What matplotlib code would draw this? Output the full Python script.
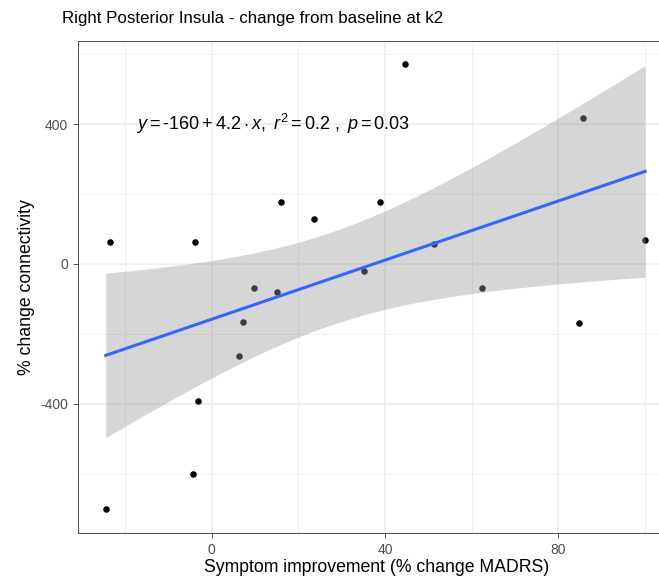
import numpy as np
import matplotlib.pyplot as plt
from matplotlib.ticker import MultipleLocator

plt.rcParams['font.family'] = ['Liberation Sans', 'DejaVu Sans']
plt.rcParams['mathtext.fontset'] = 'custom'
plt.rcParams['mathtext.rm'] = 'Liberation Sans'
plt.rcParams['mathtext.it'] = 'Liberation Sans:italic'
plt.rcParams['axes.unicode_minus'] = False

# symptom improvement (% change MADRS) and % change connectivity
improvement = [-24.4, -23.5, -4.2, -3.7, -3.1, 6.3, 7.3, 9.8, 15.2, 16.1,
               23.6, 35.1, 38.9, 44.6, 51.4, 62.4, 84.8, 85.6, 100.0]
connectivity = [-700, 63, -600, 64, -392, -264, -167, -69, -79, 178,
                130, -19, 178, 571, 56, -69, -168, 418, 69]

x = np.array(improvement)
y = np.array(connectivity)

# linear fit with 95% confidence band (like geom_smooth(method = "lm"))
n = len(x)
slope, intercept = np.polyfit(x, y, 1)
resid = y - (intercept + slope * x)
s = np.sqrt(np.sum(resid ** 2) / (n - 2))
t_crit = 2.1098  # t(0.975, df = 17)
xs = np.linspace(x.min(), x.max(), 200)
ys = intercept + slope * xs
se = s * np.sqrt(1 / n + (xs - x.mean()) ** 2 / np.sum((x - x.mean()) ** 2))

fig = plt.figure(figsize=(6.59, 5.79), dpi=100)
ax = fig.add_axes([78 / 659, 46 / 579, 597 / 659, 492 / 579])

ax.scatter(x, y, s=22, color='black', zorder=2, linewidths=0)
ax.fill_between(xs, ys - t_crit * se, ys + t_crit * se, color='#999999',
                alpha=0.4, linewidth=0, zorder=3)
ax.plot(xs, ys, color='#3366FF', linewidth=2.2, zorder=4)

ax.text(-17.5, 400, r'$y = \text{-}160 + 4.2 \cdot x,\ r^2 = 0.2\ ,\ p = 0.03$',
        fontsize=13, va='center', ha='left', zorder=5)

ax.set_xlim(-30.8, 106.9)
ax.set_ylim(-770, 638)
ax.xaxis.set_major_locator(MultipleLocator(40))
ax.xaxis.set_minor_locator(MultipleLocator(20))
ax.yaxis.set_major_locator(MultipleLocator(400))
ax.yaxis.set_minor_locator(MultipleLocator(200))
ax.grid(True, which='major', color='#EBEBEB', linewidth=1.1, zorder=0)
ax.grid(True, which='minor', color='#EBEBEB', linewidth=0.55, zorder=0)
ax.set_axisbelow(True)
ax.tick_params(which='major', length=3.5, width=0.6, color='#333333',
               labelcolor='#4D4D4D', labelsize=10)
ax.tick_params(which='minor', length=0)
for sp in ax.spines.values():
    sp.set_color('#333333')
    sp.set_linewidth(0.6)

ax.set_xlabel('Symptom improvement (% change MADRS)', fontsize=12.7, labelpad=2)
ax.set_ylabel('% change connectivity', fontsize=12.7, labelpad=4)
fig.text(62 / 659, 1 - 18 / 579, 'Right Posterior Insula - change from baseline at k2',
         fontsize=12.2, ha='left', va='center')

fig.savefig('out.png', dpi=100)
